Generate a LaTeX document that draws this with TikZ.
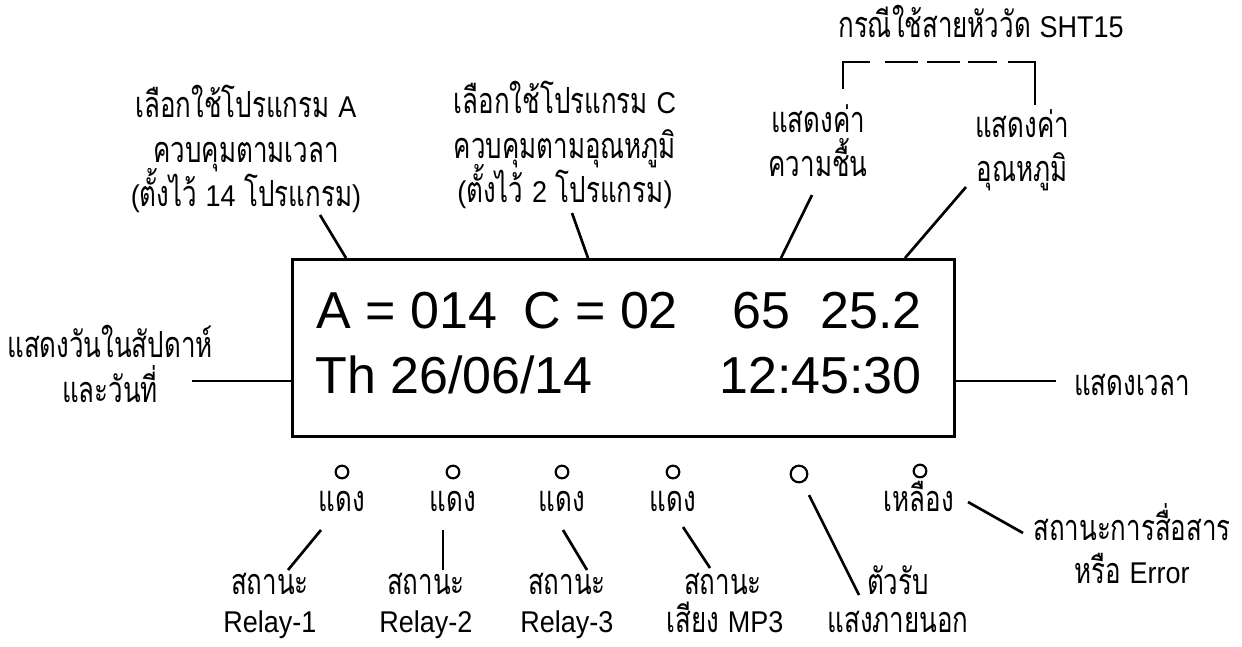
\documentclass[tikz,border=0pt]{standalone}
\usepackage{fontspec}
\setmainfont{Liberation Sans}
\newfontfamily\thaif[Script=Thai,FakeStretch=0.72]{Loma}
\newfontfamily\latf{Liberation Sans}
\newfontfamily\latn[FakeStretch=0.9]{Liberation Sans}
\usetikzlibrary{calc}
\newcommand\TL[1]{{\fontsize{22.5pt}{26pt}\selectfont\latn #1}}
\tikzset{
  lbl/.style={inner sep=0pt, anchor=base, font=\fontsize{27pt}{32pt}\selectfont\thaif},
  lcdtxt/.style={inner sep=0pt, font=\fontsize{39pt}{45pt}\selectfont\latf},
  conn/.style={line width=2pt},
  led/.style={circle, draw, line width=1.6pt, inner sep=0pt, minimum size=9.5pt},
  bigled/.style={circle, draw, line width=1.6pt, inner sep=0pt, minimum size=12.5pt},
}
\begin{document}
\begin{tikzpicture}[x=0.75pt,y=-0.75pt]
\useasboundingbox (0,0) rectangle (1242,646);
% LCD box
\node[draw, line width=2pt, anchor=north west, inner sep=0pt,
      minimum width=496.5pt, minimum height=132.75pt] (lcd) at (291,258) {};
\node[lcdtxt, anchor=base west] (tA) at (316,328) {A = 014};
\node[lcdtxt, anchor=base west] (tC) at (523,328) {C = 02};
\node[lcdtxt, anchor=base west] (tH) at (732,328) {65};
\node[lcdtxt, anchor=base east] (tT) at (922,328) {25.2};
\node[lcdtxt, anchor=base west] (tD) at (315,393) {Th 26/06/14};
\node[lcdtxt, anchor=base east] (tK) at (922,393) {12:45:30};
% top labels
\node[lbl] (a1) at (246,117) {เลือกใช้โปรแกรม \TL{A}};
\node[lbl] (a2) at (246,162) {ควบคุมตามเวลา};
\node[lbl] (a3) at (246,206) {\TL{(}ตั้งไว้ \TL{14} โปรแกรม\TL{)}};
\node[lbl] (c1) at (565,113) {เลือกใช้โปรแกรม \TL{C}};
\node[lbl] (c2) at (565,158) {ควบคุมตามอุณหภูมิ};
\node[lbl] (c3) at (565,202) {\TL{(}ตั้งไว้ \TL{2} โปรแกรม\TL{)}};
\node[lbl] (h1) at (818,132) {แสดงค่า};
\node[lbl] (h2) at (818,176) {ความชื้น};
\node[lbl] (p1) at (1022,137) {แสดงค่า};
\node[lbl] (p2) at (1022,181) {อุณหภูมิ};
\node[lbl] (sht) at (981,37) {กรณีใช้สายหัววัด \TL{SHT15}};
% side labels
\node[lbl] (d1) at (110,357) {แสดงวันในสัปดาห์};
\node[lbl] (d2) at (110,402) {และวันที่};
\node[lbl] (tm) at (1132,395) {แสดงเวลา};
% LEDs
\node[led] (l1) at (342,472) {};
\node[led] (l2) at (453,472) {};
\node[led] (l3) at (562,472) {};
\node[led] (l4) at (673,472) {};
\node[bigled] (l5) at (799,474) {};
\node[led] (l6) at (920,471) {};
\node[lbl] (r1) at (342,511) {แดง};
\node[lbl] (r2) at (453,511) {แดง};
\node[lbl] (r3) at (562,511) {แดง};
\node[lbl] (r4) at (673,511) {แดง};
\node[lbl] (y6) at (919,511) {เหลือง};
% bottom labels
\node[lbl] (s1a) at (270,594) {สถานะ};
\node[lbl] (s1b) at (270,632) {\TL{Relay-1}};
\node[lbl] (s2a) at (426,594) {สถานะ};
\node[lbl] (s2b) at (426,632) {\TL{Relay-2}};
\node[lbl] (s3a) at (567,594) {สถานะ};
\node[lbl] (s3b) at (567,632) {\TL{Relay-3}};
\node[lbl] (s4a) at (723,594) {สถานะ};
\node[lbl] (s4b) at (725,632) {เสียง \TL{MP3}};
\node[lbl] (s5a) at (898,594) {ตัวรับ};
\node[lbl] (s5b) at (898,632) {แสงภายนอก};
\node[lbl] (s6a) at (1132,540) {สถานะการสื่อสาร};
\node[lbl] (s6b) at (1132,583) {หรือ \TL{Error}};
% connector end coordinates
\coordinate (ea) at (320,215);
\coordinate (ec) at (572,213);
\coordinate (eh) at (812,195);
\coordinate (ep) at (966,187);
\coordinate (ed) at (192,381);
\coordinate (et) at (1056,381);
\coordinate (e1a) at (321,530); \coordinate (e1b) at (288,570);
\coordinate (e2a) at (443,530); \coordinate (e2b) at (443,570);
\coordinate (e3a) at (563,530); \coordinate (e3b) at (587,570);
\coordinate (e4a) at (683,527); \coordinate (e4b) at (710,568);
\coordinate (e5a) at (809,495); \coordinate (e5b) at (859,595);
\coordinate (e6a) at (968,502); \coordinate (e6b) at (1023,533);
% connectors
\draw[conn] (ea) -- ($(lcd.north west)+(55,0)$);
\draw[conn] (ec) -- ($(lcd.north west)+(297,0)$);
\draw[conn] (eh) -- ($(lcd.north west)+(490,0)$);
\draw[conn] (ep) -- ($(lcd.north west)+(614,0)$);
\draw[conn] (ed) -- ($(lcd.north west)+(0,123)$);
\draw[conn] ($(lcd.north east)+(0,123)$) -- (et);
\draw[conn] (e1a) -- (e1b);
\draw[conn] (e2a) -- (e2b);
\draw[conn] (e3a) -- (e3b);
\draw[conn] (e4a) -- (e4b);
\draw[conn] (e5a) -- (e5b);
\draw[conn] (e6a) -- (e6b);
% SHT15 dashed bracket
\draw[conn] (843,89) -- (843,62) -- (870,62);
\draw[conn] (885,62) -- (918,62);
\draw[conn] (927,62) -- (960,62);
\draw[conn] (968,62) -- (997,62);
\draw[conn] (1008,62) -- (1035,62) -- (1035,105);
\end{tikzpicture}
\end{document}
